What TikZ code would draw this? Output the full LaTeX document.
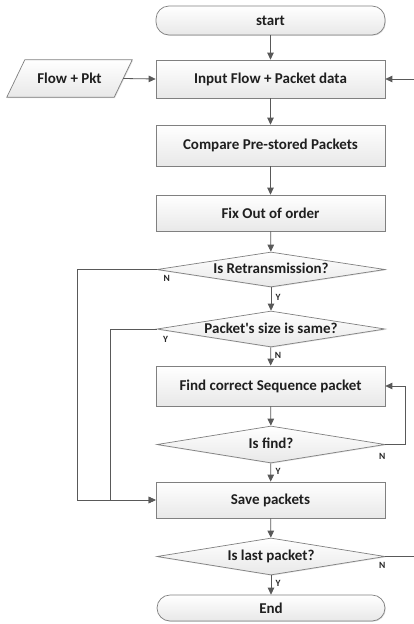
\documentclass[tikz,border=0pt]{standalone}
\usepackage{fontspec}
\setmainfont{Carlito}
\usetikzlibrary{shapes.geometric,arrows.meta,calc,shadows}
\pgfdeclarelayer{background}
\pgfsetlayers{background,main}
\begin{document}
\begin{tikzpicture}[x=1pt,y=-1pt,
  txt/.style={font=\bfseries\fontsize{15}{17}\selectfont, text=black!88},
  base/.style={draw=black!50, line width=0.7pt, top color=white, bottom color=black!9,
    txt, inner sep=0pt,
    drop shadow={shadow xshift=0.8pt, shadow yshift=-0.8pt, opacity=0.25}},
  procbox/.style={base, rectangle, minimum width=229pt},
  termbox/.style={base, rectangle, rounded corners=13pt, minimum width=229pt},
  decbox/.style={base, diamond, aspect=6.33, minimum width=228pt, text height=9pt, text depth=1pt},
  conn/.style={draw=black!65, line width=0.8pt, -{Triangle[length=7pt,width=6.5pt]}},
  plain/.style={draw=black!65, line width=0.8pt},
  lab/.style={font=\bfseries\fontsize{9.5}{11}\selectfont, text=black!85, inner sep=0pt}]
\useasboundingbox (0,0) rectangle (414,624);
\begin{pgfonlayer}{background}
\fill[white] (0,0) rectangle (414,624);
\end{pgfonlayer}

\node[termbox, minimum height=29pt] (start) at (270.5,20.5) {start};
\node[procbox, minimum height=38pt] (input) at (270.5,79) {Input Flow + Packet data};
\node[procbox, minimum height=41pt] (compare) at (270.5,145.5) {Compare Pre-stored Packets};
\node[procbox, minimum height=36pt] (fix) at (270.5,213) {Fix Out of order};
\node[decbox, minimum height=35pt] (retrans) at (271,269.5) {Is Retransmission?};
\node[decbox, minimum height=36pt] (size) at (271,329) {Packet\textquotesingle s size is same?};
\node[procbox, minimum height=40pt] (find) at (270.5,386) {Find correct Sequence packet};
\node[decbox, minimum height=37pt] (isfind) at (271,444.5) {Is find?};
\node[procbox, minimum height=36pt] (save) at (270.5,500) {Save packets};
\node[decbox, minimum height=37pt] (islast) at (271,556.5) {Is last packet?};
\node[termbox, minimum width=228pt, minimum height=26pt] (end) at (271,608) {End};

\node[txt, inner sep=0pt, minimum width=107pt, minimum height=37pt] (flow) at (69.5,78.5) {Flow + Pkt};
\begin{pgfonlayer}{background}
\path[base] ($(flow.south west)+(-9,0)$) -- ($(flow.south east)+(-9,0)$)
  -- ($(flow.north east)+(9,0)$) -- ($(flow.north west)+(9,0)$) -- cycle;
\end{pgfonlayer}

\coordinate (rin) at (414,79);
\coordinate (rout) at (414,556.5);

\draw[conn] (start) -- (input);
\draw[conn] (flow.east) -- (input.west);
\draw[conn] (rin) -- (input.east);
\draw[conn] (input) -- (compare);
\draw[conn] (compare) -- (fix);
\draw[conn] (fix) -- (retrans);
\draw[conn] (retrans) -- (size);
\draw[conn] (size) -- (find);
\draw[conn] (find) -- (isfind);
\draw[conn] (isfind) -- (save);
\draw[conn] (save) -- (islast);
\draw[conn] (islast) -- (end);

\draw[conn] (retrans.west) -- ++(-79,0) |- (save.west);
\draw[conn] (size.west) -- ++(-46,0) |- (save.west);
\draw[conn] (isfind.east) -- ++(20,0) |- (find.east);
\draw[plain] (islast.east) -- (rout);

\node[lab] (nr) at ($(retrans.west)+(10,9)$) {N};
\node[lab] (yr) at ($(retrans.south)+(7,10)$) {Y};
\node[lab] (ys) at ($(size.west)+(9,10)$) {Y};
\node[lab] (ns) at ($(size.south)+(7,8)$) {N};
\node[lab] (nf) at ($(isfind.east)+(-3,12)$) {N};
\node[lab] (yf) at ($(isfind.south)+(7,8)$) {Y};
\node[lab] (nl) at ($(islast.east)+(-3,9)$) {N};
\node[lab] (yl) at ($(islast.south)+(7,8)$) {Y};
\end{tikzpicture}
\end{document}
